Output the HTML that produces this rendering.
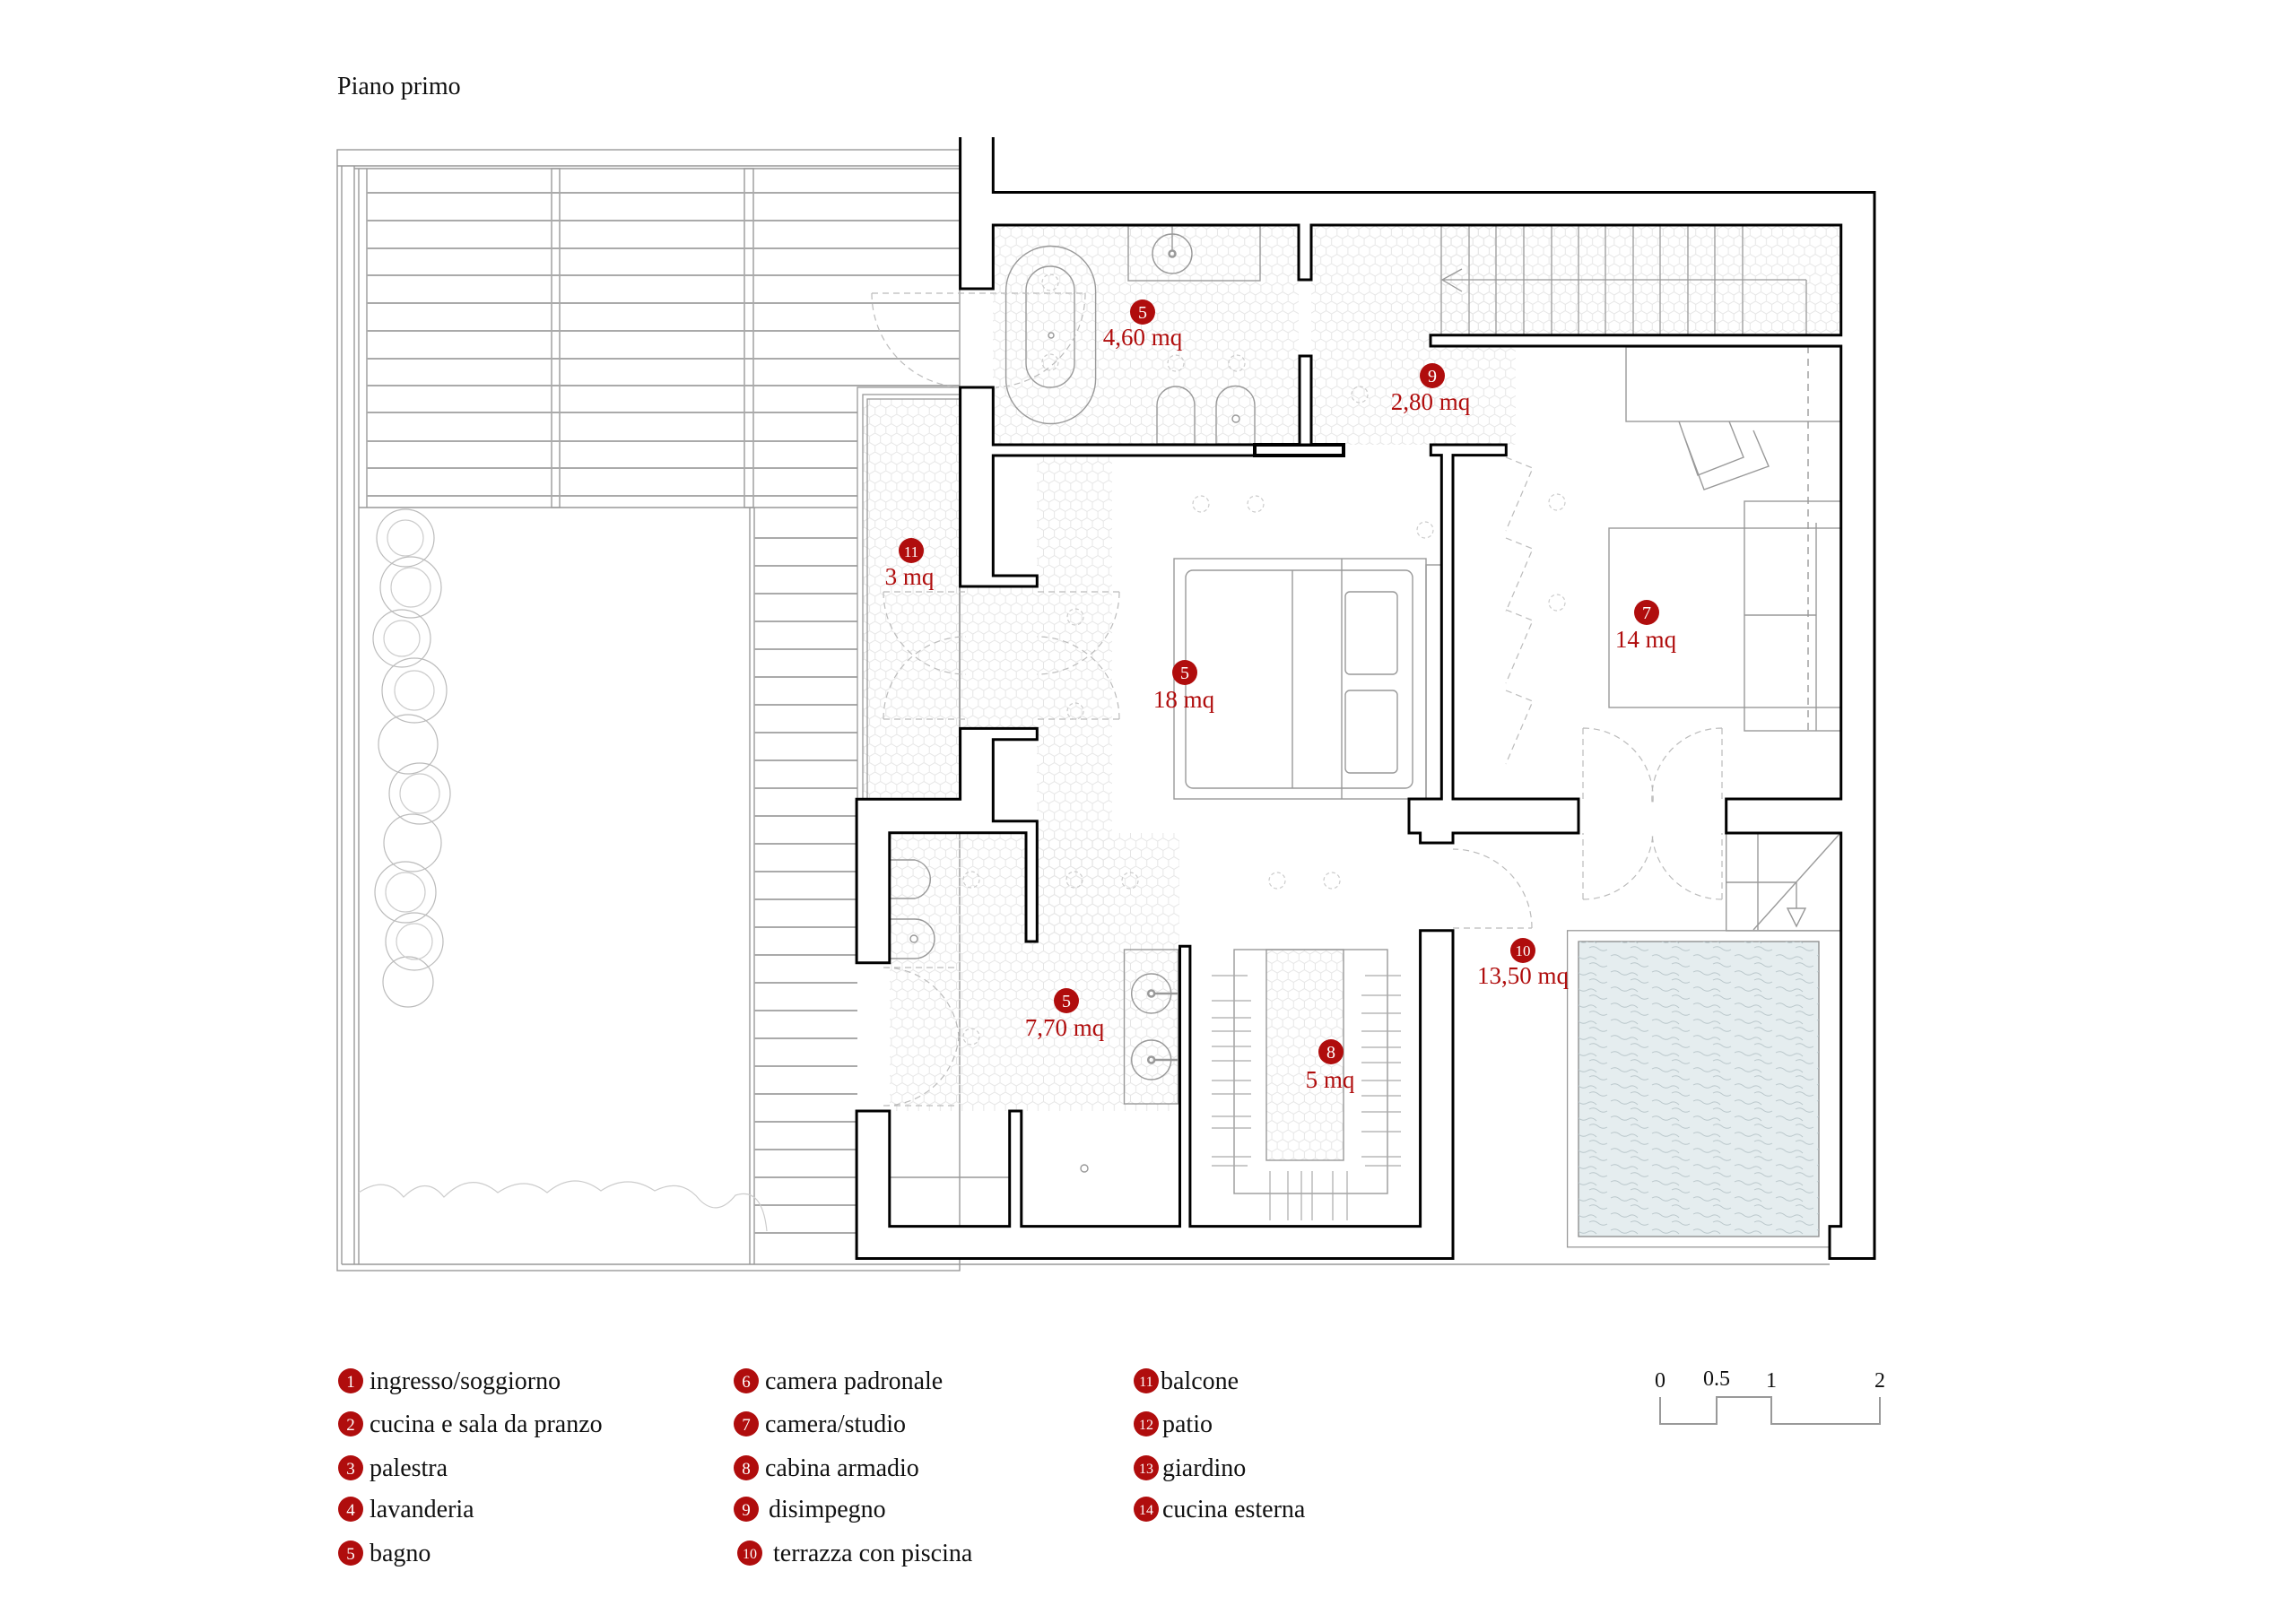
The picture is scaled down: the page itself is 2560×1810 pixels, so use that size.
<!DOCTYPE html>
<html><head><meta charset="utf-8"><style>
html,body{margin:0;padding:0;background:#fff}
svg{display:block}
text{font-family:"Liberation Serif",serif}
</style></head><body>
<svg width="2560" height="1810" viewBox="0 0 2560 1810" xmlns="http://www.w3.org/2000/svg">
<defs>
<pattern id="hex" width="12.12" height="21" patternUnits="userSpaceOnUse">
<path d="M0,3.5 L6.06,0 L12.12,3.5 M0,3.5 V10.5 L6.06,14 L12.12,10.5 V3.5 M6.06,14 V21" fill="none" stroke="#e6e6e6" stroke-width="1"/>
</pattern>
<pattern id="wave" width="46" height="18" patternUnits="userSpaceOnUse">
<path d="M2,4 q5,-3 10,1 t10,1 t10,2 M24,13 q5,-3 10,1 t10,1" fill="none" stroke="#b9c6ca" stroke-width="1"/>
</pattern>
</defs>
<rect width="2560" height="1810" fill="#fff"/>
<text x="376" y="105" font-size="28" fill="#111">Piano primo</text>

<!-- pergola -->
<g fill="none" stroke="#999" stroke-width="1.4">
<rect x="376" y="167" width="694" height="1250"/>
<line x1="376" y1="185" x2="1070" y2="185"/>
<line x1="395" y1="188" x2="1070" y2="188"/>
<line x1="381" y1="185" x2="381" y2="1410"/>
<line x1="395" y1="185" x2="395" y2="1410"/>
<line x1="400" y1="188" x2="400" y2="1410"/>
<line x1="409" y1="188" x2="409" y2="566"/>
<line x1="381" y1="1410" x2="2040" y2="1410"/>
<rect x="615" y="188" width="9" height="378"/>
<rect x="830" y="188" width="10" height="378"/>
<line x1="400" y1="566" x2="956" y2="566"/>
<line x1="836" y1="566" x2="836" y2="1410"/>
<line x1="841" y1="566" x2="841" y2="1410"/>
</g>
<g stroke="#aaa" stroke-width="2">
<path d="M409,215H1070M409,246H1070M409,277H1070M409,307H1070M409,338H1070M409,369H1070M409,400H1070M409,430H1070M409,460H956M409,492H956M409,522H956M409,553H956"/>
<path d="M841,600H956M841,631H956M841,662H956M841,693H956M841,724H956M841,755H956M841,786H956M841,817H956M841,848H956M841,879H956M841,910H956M841,941H956M841,972H956M841,1003H956M841,1034H956M841,1065H956M841,1096H956M841,1127H956M841,1158H956M841,1189H956M841,1220H956M841,1251H956M841,1282H956M841,1313H956M841,1344H956M841,1375H956"/>
</g>
<!-- trees -->
<g fill="none" stroke="#bbb" stroke-width="1.2">
<circle cx="452" cy="600" r="32"/><circle cx="458" cy="655" r="34"/><circle cx="448" cy="712" r="32"/>
<circle cx="462" cy="770" r="36"/><circle cx="455" cy="830" r="33"/><circle cx="468" cy="885" r="34"/>
<circle cx="460" cy="940" r="32"/><circle cx="452" cy="995" r="34"/><circle cx="462" cy="1050" r="32"/><circle cx="455" cy="1095" r="28"/>
<circle cx="452" cy="600" r="20" stroke="#ccc"/><circle cx="458" cy="655" r="22" stroke="#ccc"/><circle cx="448" cy="712" r="20" stroke="#ccc"/><circle cx="462" cy="770" r="22" stroke="#ccc"/><circle cx="468" cy="885" r="22" stroke="#ccc"/><circle cx="452" cy="995" r="22" stroke="#ccc"/><circle cx="462" cy="1050" r="20" stroke="#ccc"/>
<path d="M400,1330 q30,-20 50,5 q25,-25 45,0 q30,-30 60,-5 q30,-20 55,0 q30,-25 60,-2 q30,-20 60,0 q30,-15 50,10 q20,20 40,-5 q30,-10 35,40" stroke="#ccc"/>
</g>

<!-- hex floors -->
<g fill="url(#hex)">
<rect x="1107" y="251" width="341" height="245"/>
<rect x="1462" y="251" width="228" height="245"/>
<rect x="1607" y="251" width="447" height="123"/>
<rect x="962" y="445" width="108" height="446"/>
<rect x="1156" y="508" width="84" height="551"/>
<rect x="1070" y="654" width="86" height="158"/>
<rect x="992" y="929" width="323" height="310"/>
<rect x="1412" y="1059" width="86" height="235"/>
</g>
<g fill="none" stroke="#999" stroke-width="1.3">
<rect x="956" y="432" width="114" height="460"/>
<rect x="962" y="440" width="108" height="452"/>
<rect x="967" y="445" width="103" height="447"/>
</g>

<!-- furniture -->
<g fill="none" stroke="#999" stroke-width="1.4">
<rect x="1121.6" y="274.5" width="100" height="198" rx="50"/>
<rect x="1144" y="297" width="54" height="135" rx="27"/>
<circle cx="1172" cy="374" r="3"/>
<rect x="1258" y="252" width="147" height="61"/>
<circle cx="1307" cy="283" r="22"/><circle cx="1307" cy="283" r="3.5" stroke-width="2.5"/><line x1="1307" y1="252" x2="1307" y2="280"/>
<path d="M1290,495V452a21,21 0 0 1 42,0V495Z"/>
<path d="M1356,495V452a21,21 0 0 1 43,0V495Z"/><circle cx="1378" cy="467" r="4"/>
<rect x="1309" y="623" width="281" height="268"/>
<rect x="1322" y="636" width="253" height="243" rx="8"/>
<line x1="1441" y1="636" x2="1441" y2="879"/><line x1="1496" y1="623" x2="1496" y2="891"/>
<rect x="1500" y="660" width="58" height="92" rx="5"/><rect x="1500" y="770" width="58" height="92" rx="5"/>
<rect x="1590" y="630" width="30" height="261"/>
<rect x="1813" y="387" width="240" height="83"/>
<path d="M1872,470 L1893,530 L1944,510 L1928,470 M1878,487 L1900,546 L1972,520 L1955,480"/>
<rect x="1794" y="589" width="259" height="200"/>
<rect x="1945" y="559" width="108" height="256"/>
<line x1="1945" y1="686" x2="2025" y2="686"/>
<line x1="2025" y1="583" x2="2025" y2="815"/>
<line x1="2016" y1="386" x2="2016" y2="815" stroke-dasharray="8,6"/>
<rect x="1253.5" y="1059" width="60" height="172"/>
<circle cx="1283.7" cy="1108" r="22"/><circle cx="1283.7" cy="1182" r="22"/>
<circle cx="1283.7" cy="1108" r="3.5" stroke-width="2.5"/><circle cx="1283.7" cy="1182" r="3.5" stroke-width="2.5"/>
<line x1="1287" y1="1108" x2="1315" y2="1108" stroke-width="2.5"/><line x1="1287" y1="1182" x2="1315" y2="1182" stroke-width="2.5"/>
<path d="M992,959H1020a22,22 0 0 1 0,43H992"/>
<path d="M992,1025H1020a22,22 0 0 1 0,44H992"/><circle cx="1019" cy="1047" r="4"/>
<rect x="1376" y="1059" width="171" height="272"/>
<rect x="1412" y="1059" width="86" height="235"/>
<line x1="992" y1="1313" x2="1126" y2="1313"/>
<circle cx="1209" cy="1303" r="4"/>
<rect x="1924.7" y="929" width="128" height="109"/>
<line x1="1960" y1="929" x2="1960" y2="1037"/><line x1="1924.7" y1="984" x2="2003" y2="984"/>
<line x1="1955" y1="1037" x2="2052" y2="929"/>
<path d="M2003,984V1013 M1993,1013h20l-10,20z"/>
</g>
<g stroke="#aaa" stroke-width="1.2">
<path d="M1351,1088h40M1351,1116h44M1351,1135h44M1351,1150h44M1351,1167h44M1351,1183h44M1351,1205h44M1351,1220h44M1351,1245h44M1351,1258h44M1351,1290h44M1351,1300h40"/>
<path d="M1522,1088h40M1518,1110h44M1518,1130h44M1518,1150h44M1518,1168h44M1518,1185h44M1518,1205h44M1518,1222h44M1518,1240h44M1518,1262h44M1518,1290h44M1522,1300h40"/>
<path d="M1416,1306v55M1436,1306v55M1451,1306v55M1463,1306v55M1486,1306v55M1502,1306v55"/>
</g>
<g stroke="#999" stroke-width="1.3" fill="none">
<path d="M1607,251V374M1638,251V374M1668,251V374M1699,251V374M1730,251V374M1760,251V374M1790,251V374M1821,251V374M1851,251V374M1882,251V374M1912,251V374M1943,251V374"/>
<path d="M2014,312H1608M1630,300L1608,312L1630,325M2014,312V374"/>
</g>
<rect x="1747.6" y="1037.8" width="305" height="353" fill="none" stroke="#999" stroke-width="1.3"/>
<rect x="1760" y="1050" width="268" height="329" fill="#e5edef" stroke="#888" stroke-width="1.3"/>
<rect x="1760" y="1050" width="268" height="329" fill="url(#wave)"/>

<g fill="none" stroke="#bbb" stroke-width="1.2" stroke-dasharray="7,5">
<path d="M972,327H1210 M972,327a105,105 0 0 0 100,105 M1210,327a105,105 0 0 1 -100,105"/>
<path d="M985,660h92 M985,660a92,92 0 0 0 92,92 M1248,660h-92 M1248,660a92,92 0 0 1 -92,92"/>
<path d="M985,802h92 M985,802a92,92 0 0 1 92,-92 M1248,802h-92 M1248,802a92,92 0 0 0 -92,-92"/>
<path d="M985,1079h84 M985,1079a84,84 0 0 1 84,77 M985,1233h84 M985,1233a84,84 0 0 0 84,-77"/>
<path d="M1620,1035h88 M1708,1035a88,88 0 0 0 -88,-88"/>
<path d="M1765,812v83 M1765,812a78,78 0 0 1 78,83 M1920,812v83 M1920,812a78,78 0 0 0 -78,83"/>
<path d="M1765,1003v-74 M1765,1003a78,78 0 0 0 78,-74 M1920,1003v-74 M1920,1003a78,78 0 0 1 -78,-74"/>
<path d="M1679,510l30,12l-30,70M1679,600l30,12l-30,70M1679,680l30,12l-30,70M1679,770l30,12l-30,70"/>
</g>
<g fill="none" stroke="#ccc" stroke-width="1.2" stroke-dasharray="4,3">
<circle cx="1171" cy="315" r="9"/><circle cx="1171" cy="404" r="9"/><circle cx="1311" cy="405" r="9"/><circle cx="1379" cy="405" r="9"/>
<circle cx="1516" cy="440" r="9"/><circle cx="1339" cy="562" r="9"/><circle cx="1400" cy="562" r="9"/>
<circle cx="1199" cy="688" r="9"/><circle cx="1199" cy="793" r="9"/><circle cx="1083" cy="981" r="9"/><circle cx="1198" cy="981" r="9"/>
<circle cx="1260" cy="982" r="9"/><circle cx="1424" cy="982" r="9"/><circle cx="1485" cy="982" r="9"/><circle cx="1083" cy="1156" r="9"/>
<circle cx="1736" cy="560" r="9"/><circle cx="1736" cy="672" r="9"/><circle cx="1589" cy="591" r="9"/>
</g>

<g fill="#fff" stroke="#000" stroke-width="3">
<path d="M1070.6,153V322H1107.3V251H1448V312H1462V251H2052.7V373.7H1595V386H2052.7V891H1924.7V929H2052.7V1367.6H2040V1403.5H2090V214.5H1107.3V153"/>
<path d="M1070.6,432H1107.3V496H1399V508H1107.3V642H1156.3V654H1070.6Z"/>
<rect x="1399" y="496" width="99" height="12" stroke-width="4"/>
<rect x="1449" y="397" width="13" height="99"/>
<path d="M1070.6,812.4H1156.3V824.7H1107.3V915.7H1156.3V1050H1144V928.8H991.8V1073.7H955.1V891.2H1070.6Z"/>
<path d="M955.1,1239H991.8V1367.6H1125.7V1239H1138.8V1367.6H1315.5V1055.3H1326.9V1367.6H1583.6V1037.8H1620V1403.5H955.1Z"/>
<path d="M1595.3,496H1679.3V507.6H1620V891H1760V929H1620V940H1583.6V929H1571V891H1607.3V507.6H1595.3Z"/>
</g>

<g fill="#b00d0d" font-size="27" text-anchor="middle">
<circle cx="1274" cy="348" r="14"/><circle cx="1597" cy="419" r="14"/><circle cx="1016" cy="614" r="14"/>
<circle cx="1321" cy="750" r="14"/><circle cx="1836" cy="683" r="14"/><circle cx="1189" cy="1116" r="14"/>
<circle cx="1484" cy="1173" r="14"/><circle cx="1698" cy="1060" r="14"/>
<text x="1274" y="385">4,60 mq</text>
<text x="1595" y="457">2,80 mq</text>
<text x="1014" y="652">3 mq</text>
<text x="1320" y="789">18 mq</text>
<text x="1835" y="722">14 mq</text>
<text x="1187" y="1155">7,70 mq</text>
<text x="1483" y="1213">5 mq</text>
<text x="1698" y="1097">13,50 mq</text>
</g>
<g fill="#fff" font-size="20" text-anchor="middle">
<text x="1274" y="355">5</text><text x="1597" y="426">9</text><text x="1016" y="621" font-size="17">11</text>
<text x="1321" y="757">5</text><text x="1836" y="690">7</text><text x="1189" y="1123">5</text>
<text x="1484" y="1180">8</text><text x="1698" y="1066" font-size="17">10</text>
</g>

<g fill="#b00d0d">
<circle cx="391" cy="1540" r="14"/><circle cx="391" cy="1588" r="14"/><circle cx="391" cy="1637" r="14"/><circle cx="391" cy="1683" r="14"/><circle cx="391" cy="1732" r="14"/>
<circle cx="832" cy="1540" r="14"/><circle cx="832" cy="1588" r="14"/><circle cx="832" cy="1637" r="14"/><circle cx="832" cy="1683" r="14"/><circle cx="836" cy="1732" r="14"/>
<circle cx="1278" cy="1540" r="14"/><circle cx="1278" cy="1588" r="14"/><circle cx="1278" cy="1637" r="14"/><circle cx="1278" cy="1683" r="14"/>
</g>
<g fill="#fff" font-size="19" text-anchor="middle">
<text x="391" y="1547">1</text><text x="391" y="1595">2</text><text x="391" y="1644">3</text><text x="391" y="1690">4</text><text x="391" y="1739">5</text>
<text x="832" y="1547">6</text><text x="832" y="1595">7</text><text x="832" y="1644">8</text><text x="832" y="1690">9</text><text x="836" y="1738" font-size="16">10</text>
<text x="1278" y="1546" font-size="16">11</text><text x="1278" y="1594" font-size="16">12</text><text x="1278" y="1643" font-size="16">13</text><text x="1278" y="1689" font-size="16">14</text>
</g>
<g fill="#111" font-size="28">
<text x="412" y="1549">ingresso/soggiorno</text>
<text x="412" y="1597">cucina e sala da pranzo</text>
<text x="412" y="1646">palestra</text>
<text x="412" y="1692">lavanderia</text>
<text x="412" y="1741">bagno</text>
<text x="853" y="1549">camera padronale</text>
<text x="853" y="1597">camera/studio</text>
<text x="853" y="1646">cabina armadio</text>
<text x="857" y="1692">disimpegno</text>
<text x="862" y="1741">terrazza con piscina</text>
<text x="1294" y="1549">balcone</text>
<text x="1296" y="1597">patio</text>
<text x="1296" y="1646">giardino</text>
<text x="1296" y="1692">cucina esterna</text>
</g>
<g fill="#111" font-size="24" text-anchor="middle">
<text x="1851" y="1547">0</text><text x="1914" y="1545">0.5</text><text x="1975" y="1547">1</text><text x="2096" y="1547">2</text>
</g>
<path d="M1851,1558V1588H1914V1558H1975V1588H2096V1558" fill="none" stroke="#999" stroke-width="2"/>
</svg>
</body></html>
